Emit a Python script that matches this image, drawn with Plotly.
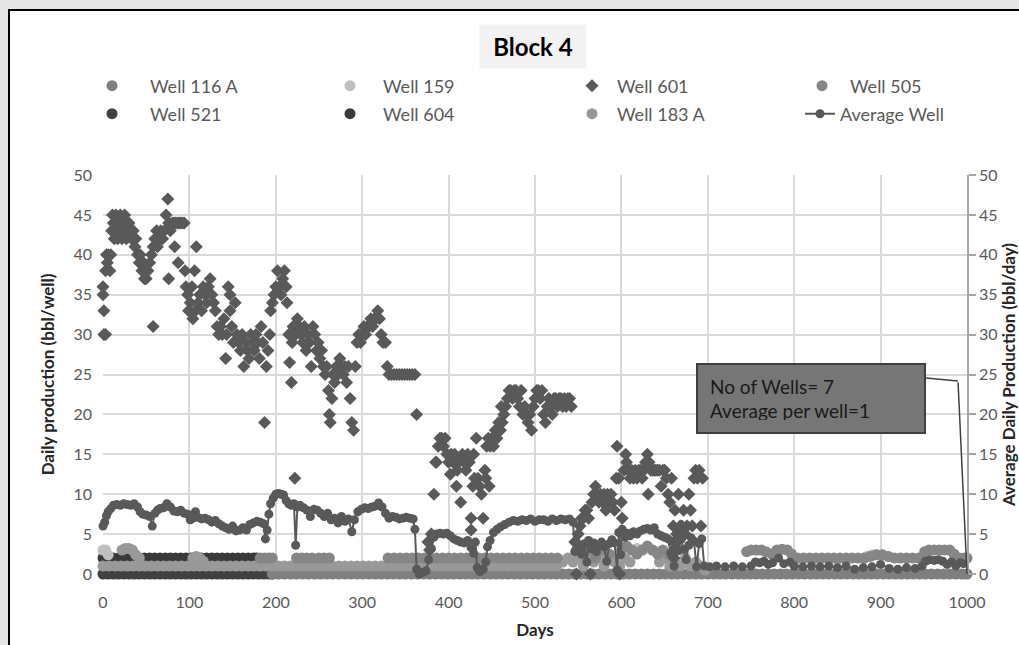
import plotly.graph_objects as go

FONT = "Lato, 'Open Sans', sans-serif"

X_RANGE = [0, 1000]
Y_RANGE = [0, 50]
X_TICKS = [0, 100, 200, 300, 400, 500, 600, 700, 800, 900, 1000]
Y_TICKS = [0, 5, 10, 15, 20, 25, 30, 35, 40, 45, 50]

TITLE = "Block 4"
CALLOUT = ["No of Wells= 7", "Average per well=1"]

# (day, bbl/day)
W601_POINTS = [
    (0, 36), (0, 35), (1, 33), (1, 30), (3, 30), (3, 38), (4, 40), (5, 39), (6, 40), (8, 38), (9, 40),
    (10, 43), (11, 45), (12, 44), (13, 42), (14, 43), (15, 45), (16, 44), (17, 42), (18, 43), (19, 44),
    (20, 45), (21, 43), (22, 42), (23, 44), (24, 43), (25, 45), (26, 44), (27, 42), (28, 43), (30, 44),
    (31, 43), (33, 42), (35, 43), (37, 41), (38, 42), (40, 40), (42, 39), (43, 40), (45, 38), (47, 39),
    (48, 37), (50, 37), (52, 38), (54, 39), (56, 40), (58, 31), (58, 41), (60, 42), (62, 43), (63, 41),
    (65, 42), (67, 43), (69, 42), (71, 43), (73, 45), (75, 47), (76, 44), (76, 37), (78, 43), (80, 44),
    (82, 44), (83, 41), (84, 44), (86, 44), (87, 39), (88, 44), (90, 44), (92, 44), (94, 44), (95, 38),
    (96, 36), (98, 35), (99, 33),
    (101, 34), (103, 36), (104, 32), (106, 38), (107, 33), (108, 41), (110, 34), (112, 35), (114, 33),
    (116, 36), (118, 35), (120, 34), (122, 36), (124, 37), (126, 35), (128, 34), (130, 33), (132, 31),
    (134, 30), (136, 31), (138, 30), (140, 32), (142, 27), (143, 30), (145, 36), (147, 35), (147, 33),
    (149, 31), (151, 29), (153, 34), (155, 30), (157, 29), (159, 28), (161, 30), (163, 26), (165, 29),
    (167, 28), (169, 27), (171, 30), (173, 29), (175, 28), (177, 30), (179, 29), (181, 27), (183, 31),
    (185, 29), (187, 19), (189, 26), (191, 28), (193, 30), (194, 33), (196, 34), (198, 35), (200, 36),
    (202, 38), (204, 36), (206, 35), (208, 37), (210, 38), (212, 36), (213, 34),
    (215, 30), (216, 26.5), (218, 24), (219, 29), (220, 31), (222, 12), (223, 30), (225, 32), (227, 31),
    (229, 30), (231, 29), (233, 31), (235, 28), (237, 30), (239, 29), (241, 26), (243, 31), (245, 30),
    (247, 28), (249, 29), (251, 27), (253, 28), (255, 26), (257, 25), (259, 26), (261, 23), (262, 20),
    (263, 19), (265, 22), (266, 25), (268, 24), (270, 26), (272, 25), (274, 27), (276, 26), (278, 25),
    (280, 26), (282, 24), (284, 26), (286, 22), (288, 19), (290, 18), (292, 26), (294, 29), (296, 30),
    (298, 29), (300, 30), (302, 31), (304, 30), (306, 31), (308, 31), (310, 32), (312, 31), (314, 32),
    (316, 32), (318, 33), (320, 32), (322, 30), (324, 29), (327, 29), (329, 26), (331, 25), (334, 25),
    (337, 25), (340, 25), (343, 25), (346, 25), (349, 25), (352, 25), (355, 25), (358, 25), (361, 25),
    (363, 20),
    (376, 4), (378, 3), (380, 5), (383, 10), (385, 14), (386, 14), (388, 16), (390, 17), (392, 17),
    (394, 16), (396, 17), (398, 15), (400, 14), (402, 12.5), (403, 15), (405, 14), (407, 15), (409, 11),
    (410, 13), (412, 14), (414, 9), (416, 15), (418, 14), (420, 13), (422, 15), (424, 14), (426, 7),
    (426, 5.5), (428, 11), (429, 15), (430, 12), (432, 17), (434, 12), (436, 11), (438, 10), (440, 7),
    (442, 13), (443, 12), (444, 16), (446, 17), (447, 11), (448, 16), (450, 17), (452, 16), (454, 18),
    (456, 17), (458, 19), (460, 18), (461, 21), (462, 19), (464, 20), (466, 21), (468, 22), (470, 23),
    (472, 23), (474, 22), (476, 23), (478, 23), (480, 22), (482, 21), (484, 23), (486, 20), (488, 21),
    (490, 20), (492, 19), (494, 20), (496, 18), (498, 21), (500, 22), (502, 23), (504, 23), (506, 22),
    (508, 23), (510, 20), (512, 19), (514, 21), (516, 22), (518, 21), (520, 20), (522, 22), (524, 22),
    (526, 21), (528, 22), (530, 22), (532, 21), (534, 22), (536, 21), (538, 22), (540, 22), (542, 21),
    (546, 4), (548, 0), (550, 5), (552, 6), (554, 7), (556, 7), (558, 8), (560, 8), (562, 7), (564, 0),
    (566, 9), (568, 10), (570, 11), (572, 10), (574, 9), (576, 10), (578, 9), (580, 10), (582, 8),
    (584, 10), (586, 9), (588, 10), (590, 9), (592, 8), (594, 12), (595, 16), (597, 12), (598, 0),
    (600, 9), (601, 7), (603, 13), (605, 15), (606, 14), (608, 13), (610, 12), (612, 13), (614, 12),
    (616, 13), (618, 12), (620, 13), (622, 13), (624, 12), (626, 13), (628, 14), (630, 15), (631, 10),
    (632, 14), (634, 13), (636, 13), (638, 13), (640, 13), (642, 13), (644, 13), (646, 11), (648, 13),
    (650, 13), (652, 12), (654, 10), (656, 9), (658, 12), (660, 6), (661, 2), (662, 8), (664, 5),
    (666, 10), (668, 6), (670, 6), (672, 8), (674, 5), (676, 6), (678, 10), (680, 8), (682, 6),
    (684, 12), (686, 13), (688, 12), (690, 13), (692, 6), (694, 12),
]

W521_POINTS = [
    (0, 0), (6, 0), (12, 0), (18, 0), (24, 0), (30, 0), (36, 0), (42, 0), (48, 0), (54, 0), (60, 0),
    (66, 0), (72, 0), (78, 0), (84, 0), (90, 0), (96, 0), (102, 0), (108, 0), (114, 0), (120, 0),
    (126, 0), (132, 0), (138, 0), (144, 0), (150, 0), (156, 0), (162, 0), (168, 0), (174, 0), (180, 0),
    (186, 0), (192, 0), (196, 0),
]

W604_POINTS = [
    (0, 2), (6, 2), (12, 2), (18, 2), (24, 2), (30, 2), (36, 2), (42, 2), (48, 2), (54, 2), (60, 2),
    (66, 2), (72, 2), (78, 2), (84, 2), (90, 2), (96, 2), (102, 2), (108, 2), (114, 2), (120, 2),
    (126, 2), (132, 2), (138, 2), (144, 2), (150, 2), (156, 2), (162, 2), (168, 2), (174, 2), (178, 2),
]

W116A_POINTS = [
    (196, 0), (203, 0), (210, 0), (217, 0), (224, 0), (231, 0), (238, 0), (245, 0), (252, 0), (259, 0),
    (266, 0), (273, 0), (280, 0), (287, 0), (294, 0), (301, 0), (308, 0), (315, 0), (322, 0), (329, 0),
    (336, 0), (343, 0), (350, 0), (357, 0), (364, 0), (371, 0), (378, 0), (385, 0), (392, 0), (399, 0),
    (406, 0), (413, 0), (420, 0), (427, 0), (434, 0), (441, 0), (448, 0), (455, 0), (462, 0), (469, 0),
    (476, 0), (483, 0), (490, 0), (497, 0), (504, 0), (511, 0), (518, 0), (525, 0), (532, 0), (539, 0),
    (546, 0), (553, 0), (560, 0), (567, 0), (574, 0), (581, 0), (588, 0), (595, 0), (602, 0), (609, 0),
    (616, 0), (623, 0), (630, 0), (637, 0), (644, 0), (651, 0), (658, 0), (665, 0), (672, 0), (679, 0),
    (686, 0), (693, 0), (700, 0), (707, 0), (714, 0), (721, 0), (728, 0), (735, 0), (742, 0), (749, 0),
    (756, 0), (763, 0), (770, 0), (777, 0), (784, 0), (791, 0), (798, 0), (805, 0), (812, 0), (819, 0),
    (826, 0), (833, 0), (840, 0), (847, 0), (854, 0), (861, 0), (868, 0), (875, 0), (882, 0), (889, 0),
    (896, 0), (903, 0), (910, 0), (917, 0), (924, 0), (931, 0), (938, 0), (945, 0), (952, 0), (959, 0),
    (966, 0), (973, 0), (980, 0), (987, 0), (994, 0), (1000, 0),
]

W159_POINTS = [
    (0, 3), (3, 3), (6, 2.4), (612, 3), (618, 3.2), (624, 3), (630, 3.2), (636, 3), (642, 2.8),
    (884, 2.2), (890, 2.4), (896, 2.4), (902, 2.4), (908, 2.2),
]

W183A_POINTS = [
    (22, 3), (26, 3.2), (30, 3.2), (34, 3), (38, 2.4), (42, 2), (104, 2), (108, 2.2), (112, 2), (116, 1.6),
    (0, 1), (7, 1), (14, 1), (21, 1), (28, 1), (35, 1), (42, 1), (49, 1), (56, 1), (63, 1), (70, 1),
    (77, 1), (84, 1), (91, 1), (98, 1), (105, 1), (112, 1), (119, 1), (126, 1), (133, 1), (140, 1),
    (147, 1), (154, 1), (161, 1), (168, 1), (175, 1), (182, 1), (189, 1), (196, 1), (203, 1), (210, 1),
    (217, 1), (224, 1), (231, 1), (238, 1), (245, 1), (252, 1), (259, 1), (266, 1), (273, 1), (280, 1),
    (287, 1), (294, 1), (301, 1), (308, 1), (315, 1), (322, 1), (329, 1), (336, 1), (343, 1), (350, 1),
    (357, 1), (364, 1), (371, 1), (378, 1), (385, 1), (392, 1), (399, 1), (406, 1), (413, 1), (420, 1),
    (427, 1), (434, 1), (441, 1), (448, 1), (455, 1), (462, 1), (469, 1), (476, 1), (483, 1), (490, 1),
    (497, 1), (504, 1), (511, 1), (518, 1), (525, 1),
    (532, 1.5), (538, 2), (544, 1.5), (550, 2), (556, 1), (562, 2), (568, 1.5), (574, 2), (580, 1),
    (586, 2), (592, 1.5), (598, 1), (604, 2), (610, 1.5), (644, 1.5), (650, 2), (656, 1), (662, 1.5),
    (668, 1), (674, 2), (680, 1), (686, 1.5), (692, 1), (697, 0.5),
]

W505_POINTS = [
    (182, 2), (187, 2), (192, 2), (196, 2), (224, 2), (230, 2), (236, 2), (242, 2), (250, 2), (256, 2),
    (262, 2), (330, 2), (337, 2), (344, 2), (351, 2), (358, 2), (365, 2), (372, 2), (379, 2), (386, 2),
    (393, 2), (400, 2), (407, 2), (414, 2), (421, 2), (428, 2), (435, 2), (442, 2), (449, 2), (456, 2),
    (463, 2), (470, 2), (477, 2), (484, 2), (491, 2), (498, 2), (505, 2), (512, 2), (519, 2), (526, 2),
    (548, 3), (555, 2.5), (562, 3), (570, 2), (578, 3), (586, 2.5), (600, 3), (606, 3.5), (612, 3),
    (618, 2.5), (624, 3), (630, 3.5), (636, 3), (642, 2.5), (648, 3), (654, 2.5), (660, 2),
    (745, 2.8), (750, 3), (756, 3), (762, 3), (767, 2.8), (774, 2.5), (780, 3), (786, 3.1), (792, 3),
    (797, 2.5), (804, 2), (811, 2), (818, 2), (825, 2), (832, 2), (839, 2), (846, 2), (853, 2), (860, 2),
    (867, 2), (874, 2), (881, 2), (888, 2.2), (895, 2.4), (902, 2.4), (909, 2.2), (916, 2), (923, 2),
    (930, 2), (937, 2), (944, 2), (951, 2.8), (956, 3), (962, 3), (968, 3), (974, 3), (980, 3),
    (985, 2.5), (991, 2), (997, 2), (1000, 2),
]

AVG_POINTS = [
    (0, 6.0), (2, 6.5), (4, 7.3), (6, 7.8), (9, 8.2), (12, 8.6), (16, 8.7), (20, 8.6), (24, 8.8),
    (28, 8.7), (32, 8.6), (36, 8.8), (40, 8.4), (43, 7.8), (46, 7.5), (50, 7.4), (54, 7.2), (57, 6.0),
    (60, 7.6), (63, 8.0), (66, 8.2), (70, 8.3), (74, 8.8), (78, 8.4), (82, 7.9), (86, 7.8), (90, 8.0),
    (94, 7.6), (98, 7.5), (101, 6.8), (104, 7.0), (107, 7.8), (110, 7.1), (114, 6.9), (118, 7.0),
    (122, 6.8), (126, 6.5), (130, 6.7), (134, 6.3), (138, 6.0), (142, 5.8), (146, 5.6), (150, 6.0),
    (154, 5.4), (158, 5.5), (162, 5.8), (166, 5.5), (170, 6.2), (174, 6.4), (178, 6.6), (182, 6.5),
    (186, 6.3), (188, 4.4), (190, 5.5), (192, 7.5), (194, 8.8), (197, 9.5), (200, 10.0), (203, 10.1),
    (206, 10.0), (209, 9.9), (212, 9.2), (215, 8.8), (218, 8.6), (221, 8.8), (223, 3.6), (225, 8.4),
    (228, 8.6), (232, 8.3), (236, 8.0), (240, 7.2), (244, 8.1), (248, 8.0), (252, 7.6), (256, 7.2),
    (260, 7.6), (264, 6.8), (268, 7.0), (272, 6.4), (276, 7.2), (280, 6.6), (284, 6.9), (288, 5.3),
    (291, 6.8), (295, 7.8), (299, 8.1), (303, 8.3), (307, 8.2), (311, 8.4), (315, 8.5), (319, 8.9),
    (323, 8.4), (327, 7.6), (331, 7.0), (335, 7.2), (339, 7.1), (343, 6.9), (347, 7.0), (351, 7.1),
    (355, 7.0), (359, 6.9), (361, 5.6), (363, 0.6), (366, 0.0), (370, 0.2), (374, 0.4), (377, 1.8),
    (380, 3.2), (383, 4.6), (386, 5.0), (390, 5.1), (394, 5.0), (398, 5.1), (402, 4.8), (406, 4.4),
    (410, 4.2), (414, 4.0), (418, 3.9), (422, 4.2), (426, 3.3), (429, 2.6), (431, 4.0), (433, 0.8),
    (436, 0.3), (440, 0.6), (443, 1.5), (445, 3.4), (448, 4.2), (452, 5.2), (456, 5.6), (460, 5.9),
    (465, 6.2), (470, 6.5), (475, 6.7), (480, 6.6), (485, 6.8), (490, 6.7), (495, 6.9), (500, 6.6),
    (505, 6.8), (510, 6.8), (515, 6.6), (520, 6.9), (525, 6.7), (530, 6.9), (535, 6.8), (540, 6.9),
    (544, 6.5), (546, 2.8), (548, 4.0), (551, 3.3), (554, 2.5), (557, 3.8), (560, 1.5), (562, 4.2),
    (565, 3.2), (568, 3.9), (571, 2.8), (574, 3.6), (577, 4.0), (580, 3.4), (583, 1.6), (586, 3.8),
    (589, 4.3), (592, 3.9), (595, 0.5), (597, 5.2), (599, 2.4), (601, 5.6), (604, 4.6), (607, 5.1),
    (610, 4.8), (614, 5.3), (618, 5.0), (622, 5.4), (626, 5.6), (630, 5.7), (634, 5.5), (638, 5.8),
    (642, 5.0), (646, 4.8), (650, 4.6), (654, 4.4), (657, 2.6), (659, 4.1), (661, 1.0), (663, 3.6),
    (666, 2.9), (669, 4.3), (672, 3.1), (675, 1.8), (678, 3.6), (681, 4.5), (684, 4.1), (687, 0.9),
    (690, 3.8), (693, 4.4), (696, 1.0), (702, 0.9), (710, 1.0), (720, 0.9), (730, 1.0), (740, 0.9),
    (750, 1.0), (755, 1.5), (760, 1.4), (765, 1.6), (770, 1.2), (775, 1.4), (782, 2.0), (788, 1.3),
    (795, 1.5), (800, 1.0), (810, 0.9), (820, 1.0), (830, 0.9), (840, 1.0), (850, 0.8), (860, 1.0),
    (870, 0.6), (880, 0.8), (890, 0.9), (900, 1.2), (910, 0.7), (920, 0.6), (930, 0.8), (940, 0.7),
    (948, 1.0), (952, 1.6), (957, 1.8), (962, 1.7), (967, 1.8), (972, 1.6), (977, 1.2), (982, 1.5),
    (987, 1.0), (992, 1.4), (996, 1.3),
]


def unzip(points):
    return [p[0] for p in points], [p[1] for p in points]


# ---- layout geometry (pixels) ----
W, H = 1019, 645
ML, MR, MT, MB = 103, 52, 175, 71
PW, PH = W - ML - MR, H - MT - MB


def px(xp):
    return (xp - ML) / PW


def py(yp):
    return (H - MB - yp) / PH


# legend slot per series: (legend id, marker centre px, text start px, row centre px)
LEGEND_SLOTS = {
    "Well 116 A": ("legend", 112, 150, 86),
    "Well 159": ("legend2", 350, 383, 86),
    "Well 601": ("legend3", 592, 617, 86),
    "Well 505": ("legend4", 822, 850, 86),
    "Well 521": ("legend5", 112, 150, 114),
    "Well 604": ("legend6", 350, 383, 114),
    "Well 183 A": ("legend7", 592, 617, 114),
    "Average Well": ("legend8", 820, 840, 114),
}

fig = go.Figure()


def add_wells(name, pts, color, symbol="circle", size=11):
    x, y = unzip(pts)
    fig.add_trace(go.Scatter(
        x=x, y=y, mode="markers", name=name, legend=LEGEND_SLOTS[name][0],
        marker=dict(symbol=symbol, size=size, color=color, line=dict(width=0)),
        cliponaxis=False, hoverinfo="skip",
    ))


add_wells("Well 521", W521_POINTS, "#404040")
add_wells("Well 604", W604_POINTS, "#3a3a3a")
add_wells("Well 116 A", W116A_POINTS, "#7f7f7f")
add_wells("Well 159", W159_POINTS, "#bfbfbf")
add_wells("Well 183 A", W183A_POINTS, "#999999")
add_wells("Well 505", W505_POINTS, "#868686")
add_wells("Well 601", W601_POINTS, "#595959", symbol="diamond", size=10)

ax_, ay_ = unzip(AVG_POINTS)
fig.add_trace(go.Scatter(
    x=ax_, y=ay_, mode="lines+markers", name="Average Well", legend="legend8",
    yaxis="y2", line=dict(color="#595959", width=2),
    marker=dict(symbol="circle", size=9, color="#595959", line=dict(width=0)),
    cliponaxis=False, hoverinfo="skip",
))

tickfont = dict(family=FONT, size=16, color="#595959")
legfont = dict(family=FONT, size=18, color="#595959")

legends = {}
for name, (lid, mx, tx, ry) in LEGEND_SLOTS.items():
    if name == "Average Well":
        iw = 30
        x0 = tx - 40
    else:
        iw = max(30, int(round(2 * (tx - mx - 5))))
        x0 = mx - (5 + iw / 2)
    legends[lid] = dict(
        orientation="v", x=px(x0), xanchor="left", y=py(ry), yanchor="middle",
        itemwidth=iw, font=legfont, bgcolor="rgba(0,0,0,0)", borderwidth=0,
    )

fig.update_layout(
    width=W, height=H,
    margin=dict(l=ML, r=MR, t=MT, b=MB, autoexpand=False),
    paper_bgcolor="#e7e6e6",
    plot_bgcolor="white",
    font=dict(family=FONT, size=16, color="#595959"),
    showlegend=True,
    xaxis=dict(
        range=X_RANGE, tickvals=X_TICKS, showgrid=True, gridcolor="#d9d9d9", gridwidth=2,
        zeroline=False, showline=False, ticks="", tickfont=tickfont, ticklabelstandoff=17,
        title=dict(text="<b>Days</b>", font=dict(family=FONT, size=17, color="#262626"), standoff=14),
    ),
    yaxis=dict(
        range=Y_RANGE, tickvals=Y_TICKS, showgrid=True, gridcolor="#d9d9d9", gridwidth=2,
        zeroline=False, showline=False, ticks="", tickfont=tickfont, ticklabelstandoff=10,
        title=dict(text="<b>Daily production (bbl/well)</b>",
                   font=dict(family=FONT, size=17, color="#262626"), standoff=14),
    ),
    yaxis2=dict(
        range=Y_RANGE, tickvals=Y_TICKS, overlaying="y", side="right", showgrid=False,
        zeroline=False, showline=True, linecolor="#a6a6a6", linewidth=1.5,
        ticks="outside", ticklen=7, tickcolor="#a6a6a6", tickwidth=1.5, tickfont=tickfont,
        title=dict(text="<b>Average Daily Production (bbl/day)</b>",
                   font=dict(family=FONT, size=17, color="#262626"), standoff=32),
    ),
    shapes=[
        dict(type="rect", xref="paper", yref="paper", x0=px(9), x1=px(1030), y0=py(660), y1=py(10),
             line=dict(color="black", width=2), fillcolor="white", layer="below"),
        dict(type="line", xref="paper", yref="paper", x0=px(926), y0=py(378), x1=px(958), y1=py(381),
             line=dict(color="#404040", width=1.5)),
    ],
    annotations=[
        dict(text="<b>" + TITLE + "</b>", xref="paper", yref="paper", x=px(533), y=py(46),
             xanchor="center", yanchor="middle", showarrow=False, bgcolor="#f2f2f2",
             width=100, height=37, borderpad=3, font=dict(family=FONT, size=24, color="black")),
        dict(text="<br>".join(CALLOUT), xref="paper", yref="paper", x=px(811), y=py(398.5),
             xanchor="center", yanchor="middle", showarrow=False, align="left",
             bgcolor="#767676", bordercolor="#404040", borderwidth=2, borderpad=12,
             width=202, height=43, font=dict(family=FONT, size=19, color="#1a1a1a")),
        dict(text="", x=X_RANGE[1], y=Y_RANGE[0], xref="x", yref="y", showarrow=True,
             arrowhead=0, arrowwidth=1.5, arrowcolor="#404040", ax=-9, ay=-193, standoff=0),
    ],
    **legends,
)

fig.write_html(
    "out.html",
    config={"displayModeBar": False},
    post_script="document.body.style.margin='0';document.body.style.overflow='hidden';",
)
